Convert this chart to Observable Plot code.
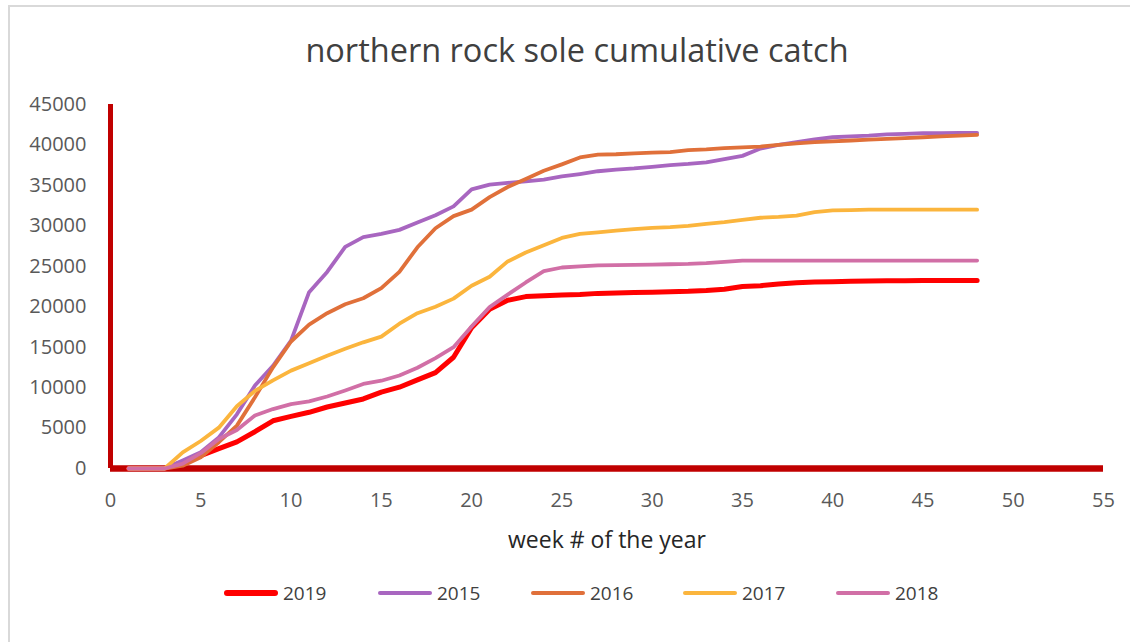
<!DOCTYPE html>
<html>
<head>
<meta charset="utf-8">
<script src="https://cdn.jsdelivr.net/npm/d3@7"></script>
<script src="https://cdn.jsdelivr.net/npm/@observablehq/plot@0.6"></script>
<style>
  html, body { margin: 0; padding: 0; background: #fff; overflow: hidden; }
  body { width: 1130px; height: 642px; position: relative; font-family: "Open Sans", sans-serif; }
  #frame { position: absolute; left: 8px; top: 5px; width: 1200px; height: 700px; border: 2px solid #d9d9d9; box-sizing: border-box; }
  #title { position: absolute; left: 0; top: 26px; width: 1154px; text-align: center; font-size: 32.5px; color: #404040; line-height: 48px; }
  #chart { position: absolute; left: 0; top: 90px; }
  #legend { position: absolute; left: 0; top: 578px; width: 1130px; height: 30px; }
  .item { position: absolute; top: 0; display: flex; align-items: center; height: 30px; font-size: 19px; color: #404040; }
  .sw { width: 54px; height: 4.5px; border-radius: 3px; margin-right: 5px; }
</style>
</head>
<body>
<div id="frame"></div>
<div id="title">northern rock sole cumulative catch</div>
<div id="chart"></div>
<div id="legend"></div>
<script>
const weeks = [1,2,3,4,5,6,7,8,9,10,11,12,13,14,15,16,17,18,19,20,21,22,23,24,25,26,27,28,29,30,31,32,33,34,35,36,37,38,39,40,41,42,43,44,45,46,47,48];

const y2019 = [0,0,0,800,1600,2450,3300,4550,5900,6450,6950,7600,8100,8600,9450,10050,10950,11850,13750,17400,19700,20800,21250,21350,21450,21500,21650,21700,21750,21800,21850,21900,22000,22150,22500,22600,22800,22950,23050,23100,23150,23180,23200,23220,23230,23230,23230,23230];
const y2015 = [0,0,0,1000,2000,3850,6700,10250,12700,15800,21800,24300,27400,28600,29000,29500,30400,31300,32400,34500,35100,35300,35500,35700,36100,36400,36750,36950,37100,37300,37500,37650,37850,38250,38650,39550,40000,40350,40700,40950,41050,41150,41300,41380,41450,41470,41480,41480];
const y2016 = [0,0,0,350,1400,3250,5300,8800,12500,15700,17800,19200,20300,21050,22300,24300,27350,29700,31200,32000,33550,34800,35800,36800,37600,38450,38800,38850,38950,39050,39100,39350,39450,39600,39700,39800,40000,40200,40350,40450,40550,40650,40750,40850,40950,41050,41150,41250];
const y2017 = [0,0,0,2000,3400,5050,7700,9600,10900,12100,13000,13950,14800,15600,16300,17900,19200,20000,21000,22600,23700,25600,26700,27600,28500,29000,29200,29400,29600,29750,29850,30000,30250,30450,30750,31000,31100,31250,31700,31900,31950,32000,32000,32000,32000,32000,32000,32000];
const y2018 = [0,0,0,600,1900,3650,4750,6550,7350,7950,8300,8900,9650,10450,10850,11500,12450,13650,15000,17550,19950,21500,23000,24400,24850,25000,25100,25150,25180,25200,25250,25300,25400,25550,25700,25700,25700,25700,25700,25700,25700,25700,25700,25700,25700,25700,25700,25700];

const seriesNames = ["2019","2015","2016","2017","2018"];
const seriesValues = [y2019, y2015, y2016, y2017, y2018];
const seriesColors = ["#FF0000","#A866C0","#E0703A","#FBB53D","#D16FA6"];
const seriesWidths = [5, 3.8, 3.8, 3.8, 3.8];

const xTicks = [0,5,10,15,20,25,30,35,40,45,50,55];
const yTicks = [0,5000,10000,15000,20000,25000,30000,35000,40000,45000];
const xLabel = "week # of the year";

const rows = [];
seriesNames.forEach((name, i) => {
  weeks.forEach((w, j) => rows.push({series: name, week: w, catch: seriesValues[i][j]}));
});

const plot = Plot.plot({
  width: 1130,
  height: 468,
  marginLeft: 110,
  marginRight: 27,
  marginTop: 14,
  marginBottom: 90,
  style: {fontFamily: "'Open Sans', sans-serif", background: "transparent"},
  x: {domain: [0, 55], ticks: xTicks},
  y: {domain: [0, 45000], ticks: yTicks},
  marks: [
    Plot.axisY({ticks: yTicks, tickSize: 0, tickPadding: 24, tickFormat: d => String(d), fontSize: 20, color: "#595959", label: null}),
    Plot.axisX({ticks: xTicks, tickSize: 0, tickPadding: 24, tickFormat: d => String(d), fontSize: 20, color: "#595959", label: null}),
    Plot.text([xLabel], {frameAnchor: "bottom", dy: 79, fontSize: 23, fill: "#262626", text: d => d}),
    Plot.ruleX([0], {y1: 0, y2: 45000, stroke: "#C00000", strokeWidth: 5}),
    Plot.ruleY([0], {x1: 0, x2: 55, stroke: "#C00000", strokeWidth: 6.5}),
    ...seriesNames.map((name, i) => Plot.line(rows.filter(r => r.series === name), {
      x: "week", y: "catch", stroke: seriesColors[i], strokeWidth: seriesWidths[i],
      strokeLinejoin: "round", strokeLinecap: "round"
    }))
  ]
});
document.getElementById("chart").appendChild(plot);

// legend
const legend = document.getElementById("legend");
const legendLeft = [224, 378, 531, 683, 836];
seriesNames.forEach((name, i) => {
  const it = document.createElement("div");
  it.className = "item";
  it.style.left = legendLeft[i] + "px";
  const sw = document.createElement("div");
  sw.className = "sw";
  sw.style.background = seriesColors[i];
  if (i === 0) sw.style.height = "5.5px";
  const tx = document.createElement("span");
  tx.textContent = name;
  it.appendChild(sw); it.appendChild(tx);
  legend.appendChild(it);
});
</script>
</body>
</html>
